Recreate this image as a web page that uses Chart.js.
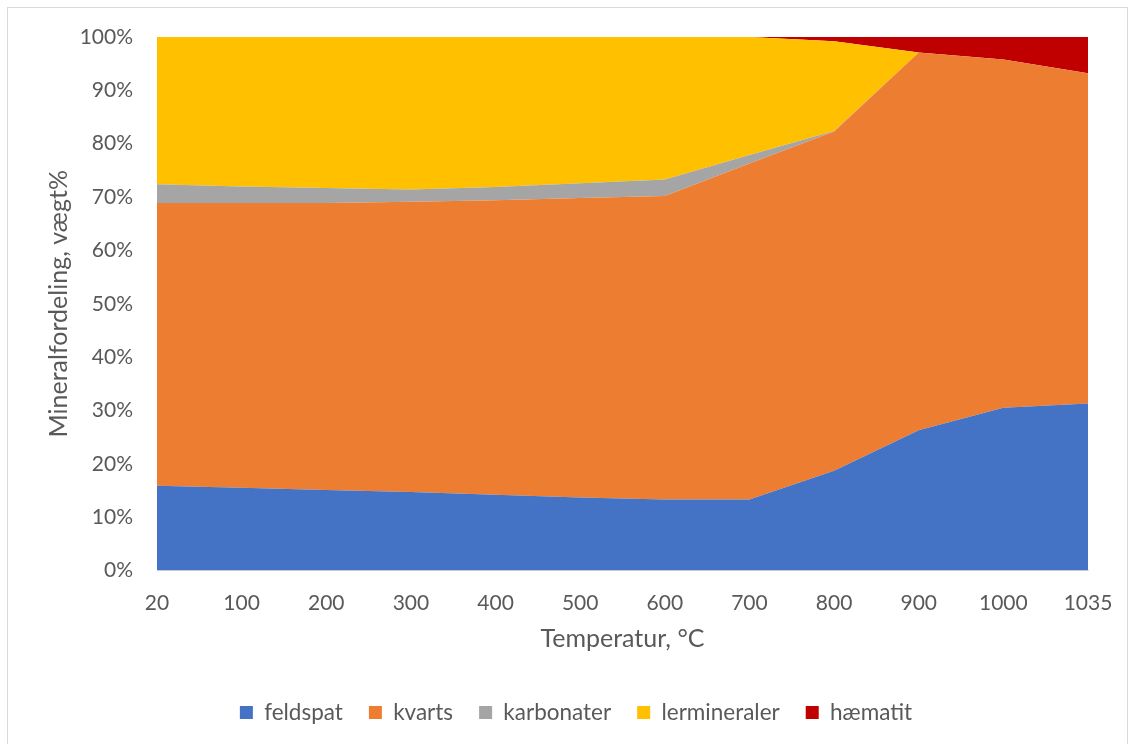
<!DOCTYPE html>
<html>
<head>
<meta charset="utf-8">
<script src="https://cdn.jsdelivr.net/npm/chart.js@4/dist/chart.umd.min.js"></script>
<style>
  html, body { margin: 0; padding: 0; background: #fff; }
  #wrap { width: 1135px; height: 744px; }
</style>
</head>
<body>
<div id="wrap"><canvas id="chart_1" width="1135" height="744"></canvas></div>
<script>
const temperatures = ["20", "100", "200", "300", "400", "500", "600", "700", "800", "900", "1000", "1035"];

// vægt% per temperatur
const feldspat = [15.9, 15.5, 15.1, 14.7, 14.2, 13.7, 13.3, 13.3, 18.7, 26.3, 30.5, 31.3];
const kvarts = [53.0, 53.4, 53.8, 54.4, 55.2, 56.1, 56.9, 63.0, 63.6, 70.8, 65.3, 61.9];
const karbonater = [3.5, 3.1, 2.8, 2.3, 2.5, 2.8, 3.1, 1.6, 0.1, 0, 0, 0];
const lermineraler = [27.6, 28.0, 28.3, 28.6, 28.1, 27.4, 26.7, 22.1, 16.8, 0, 0, 0];
const haematit = [0, 0, 0, 0, 0, 0, 0, 0, 0.8, 2.9, 4.2, 6.8];

const yTicks = [0, 10, 20, 30, 40, 50, 60, 70, 80, 90, 100];

const textColor = "#595959";
const fontFamily = "Lato, 'Open Sans', sans-serif";

function area(label, data, color, fill) {
  return {
    label: label,
    data: data,
    backgroundColor: color,
    borderColor: color,
    borderWidth: 0,
    pointRadius: 0,
    tension: 0,
    fill: fill,
  };
}

// white background and thin frame round the whole chart
const frame = {
  id: "frame",
  beforeDraw(chart) {
    const ctx = chart.ctx;
    ctx.save();
    ctx.fillStyle = "#ffffff";
    ctx.fillRect(0, 0, chart.width, chart.height);
    ctx.strokeStyle = "#d9d9d9";
    ctx.lineWidth = 1;
    ctx.strokeRect(7.5, 7.5, 1120, 740);
    ctx.restore();
  },
};

const ct_1 = document.getElementById("chart_1");

const config_1 = {
  type: "line",
  data: {
    labels: temperatures,
    datasets: [
      area("feldspat", feldspat, "#4472C4", "origin"),
      area("kvarts", kvarts, "#ED7D31", "-1"),
      area("karbonater", karbonater, "#A5A5A5", "-1"),
      area("lermineraler", lermineraler, "#FFC000", "-1"),
      area("hæmatit", haematit, "#C00000", "-1"),
    ],
  },
  options: {
    responsive: false,
    animation: false,
    layout: {
      padding: { left: 64, right: 47, top: 37, bottom: 10.25 },
    },
    scales: {
      x: {
        offset: false,
        grid: { display: false, drawTicks: false },
        border: { display: true, color: "#d9d9d9", width: 1 },
        ticks: {
          color: textColor,
          font: { size: 21, family: fontFamily },
          padding: 20,
          maxRotation: 0,
          autoSkip: false,
        },
        title: {
          display: true,
          text: "Temperatur, °C",
          color: textColor,
          font: { size: 25, family: fontFamily },
          padding: { top: 0, bottom: 21.75 },
        },
        afterFit(scale) {
          scale.height = 104.75;
        },
      },
      y: {
        stacked: true,
        min: 0,
        max: 100,
        grid: { display: false, drawTicks: false },
        border: { display: false },
        afterBuildTicks(scale) {
          scale.ticks = yTicks.map((v) => ({ value: v }));
        },
        ticks: {
          color: textColor,
          font: { size: 21, family: fontFamily },
          padding: 24,
          callback: (v) => v + "%",
        },
        title: {
          display: true,
          text: "Mineralfordeling, vægt%",
          color: textColor,
          font: { size: 25, family: fontFamily },
          padding: { top: -20, bottom: 0 },
        },
        afterFit(scale) {
          scale.width = 93;
        },
      },
    },
    plugins: {
      legend: {
        position: "bottom",
        labels: {
          boxWidth: 13,
          boxHeight: 13,
          padding: 26,
          color: textColor,
          font: { size: 22.5, family: fontFamily },
        },
      },
      tooltip: { enabled: false },
    },
  },
  plugins: [frame],
};

new Chart(ct_1, config_1);
</script>
</body>
</html>
